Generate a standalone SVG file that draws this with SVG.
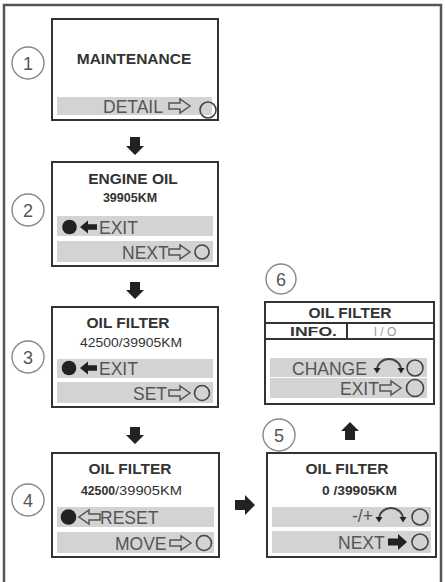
<svg xmlns="http://www.w3.org/2000/svg" width="445" height="582" viewBox="0 0 445 582">
<style>
.frame{fill:none;stroke:#555;stroke-width:2.5}
.box{fill:#fff;stroke:#333;stroke-width:2}
.bar{fill:#d3d3d3}
.step{fill:#fff;stroke:#888;stroke-width:1.4}
.stepn{font-family:"Liberation Sans",Arial,sans-serif;font-size:18px;fill:#555;text-anchor:middle}
.title{font-family:"Liberation Sans",Arial,sans-serif;font-weight:bold;font-size:15.5px;fill:#333;text-anchor:middle}
.sub{font-family:"Liberation Sans",Arial,sans-serif;font-weight:bold;font-size:12.5px;fill:#333;text-anchor:middle}
.subr{font-family:"Liberation Sans",Arial,sans-serif;font-size:13px;fill:#333}
.lbl{font-family:"Liberation Sans",Arial,sans-serif;font-size:17.5px;fill:#555}
.btn{fill:none;stroke:#444;stroke-width:1.6}
.dot{fill:#222}
.harrow{fill:none;stroke:#555;stroke-width:1.5;stroke-linejoin:miter}
.farrow{fill:#222}
.arc{fill:none;stroke:#444;stroke-width:2}
.conn{fill:#222}
</style>
<defs>
<path id="hollowR" d="M0,-3 H11 V-7 L21,0 L11,7 V3 H0 Z"/>
<path id="hollowL" d="M21,-3 H10 V-7 L0,0 L10,7 V3 H21 Z"/>
<path id="fillL" d="M17,-2.8 H8 V-6.5 L0,0 L8,6.5 V2.8 H17 Z"/>
<path id="fillR" d="M0,-3.5 H10 V-8 L19,0 L10,8 V3.5 H0 Z"/>
<g id="curv">
<path d="M2,5 A12,11 0 0 1 26,5" class="arc"/>
<path d="M-1.5,3 L5.5,3 L2,8.5 Z" fill="#222"/>
<path d="M22.5,3 L29.5,3 L26,8.5 Z" fill="#222"/>
</g>
</defs>

<!-- outer frame -->
<path class="frame" d="M4,582 V5 H441 V582"/>

<!-- Node 1 -->
<g id="node1">
<circle class="step" cx="28" cy="63" r="16"/>
<text class="stepn" x="28" y="69.5">1</text>
<rect class="box" x="52" y="19" width="166" height="101"/>
<text class="title" x="134" y="63.5">MAINTENANCE</text>
<rect class="bar" x="57" y="97" width="155" height="18"/>
<text class="lbl" x="103" y="112.5">DETAIL</text>
<use href="#hollowR" class="harrow" x="169" y="106"/>
<circle class="btn" cx="208" cy="110" r="8" fill="none"/>
</g>

<!-- Node 2 -->
<g id="node2">
<circle class="step" cx="28" cy="210" r="16"/>
<text class="stepn" x="28" y="216.5">2</text>
<rect class="box" x="52" y="162" width="166" height="104"/>
<text class="title" x="133" y="184">ENGINE OIL</text>
<text class="sub" x="130" y="202">39905KM</text>
<rect class="bar" x="57" y="216" width="156" height="20"/>
<rect class="bar" x="57" y="241" width="156" height="21"/>
<circle class="dot" cx="69.5" cy="227" r="7.3"/>
<use href="#fillL" class="farrow" x="80" y="227"/>
<text class="lbl" x="99" y="233.5" font-size="18.5">EXIT</text>
<text class="lbl" x="122" y="258.5">NEXT</text>
<use href="#hollowR" class="harrow" x="169" y="252"/>
<circle class="btn" cx="202" cy="252" r="7"/>
</g>

<!-- Node 3 -->
<g id="node3">
<circle class="step" cx="28" cy="357" r="16"/>
<text class="stepn" x="28" y="363.5">3</text>
<rect class="box" x="52" y="307" width="166" height="100"/>
<text class="title" x="128" y="328">OIL FILTER</text>
<text class="subr" x="80" y="347" textLength="102" lengthAdjust="spacingAndGlyphs">42500/39905KM</text>
<rect class="bar" x="57" y="359" width="156" height="19"/>
<rect class="bar" x="57" y="382" width="156" height="21"/>
<circle class="dot" cx="69" cy="368" r="7.3"/>
<use href="#fillL" class="farrow" x="80" y="368"/>
<text class="lbl" x="99" y="374.5" font-size="18.5">EXIT</text>
<text class="lbl" x="133" y="399.5">SET</text>
<use href="#hollowR" class="harrow" x="169" y="393"/>
<circle class="btn" cx="202" cy="393" r="7.5"/>
</g>

<!-- Node 4 -->
<g id="node4">
<circle class="step" cx="28" cy="500" r="16"/>
<text class="stepn" x="28" y="506.5">4</text>
<rect class="box" x="52" y="453" width="167" height="104"/>
<text class="title" x="130" y="474">OIL FILTER</text>
<text class="subr" x="81" y="495" font-weight="bold" textLength="34" lengthAdjust="spacingAndGlyphs">42500</text>
<text class="subr" x="115" y="495" textLength="67" lengthAdjust="spacingAndGlyphs">/39905KM</text>
<rect class="bar" x="57" y="507" width="157" height="20"/>
<rect class="bar" x="57" y="532" width="157" height="21"/>
<circle class="dot" cx="68.5" cy="517" r="7.8"/>
<use href="#hollowL" class="harrow" x="79" y="517"/>
<text class="lbl" x="100" y="524" font-size="19">RESET</text>
<text class="lbl" x="115" y="549.5" font-size="18">MOVE</text>
<use href="#hollowR" class="harrow" x="170" y="543"/>
<circle class="btn" cx="204" cy="543" r="7.5"/>
</g>

<!-- Node 5 -->
<g id="node5">
<circle class="step" cx="279" cy="435" r="16"/>
<text class="stepn" x="279" y="441.5">5</text>
<rect class="box" x="267" y="453" width="169" height="104"/>
<text class="title" x="347" y="474">OIL FILTER</text>
<text class="sub" x="359.5" y="495" textLength="75" lengthAdjust="spacingAndGlyphs">0 /39905KM</text>
<rect class="bar" x="272" y="507" width="159" height="20"/>
<rect class="bar" x="272" y="531" width="159" height="22"/>
<text class="lbl" x="352" y="522" font-size="14">-/+</text>
<use href="#curv" x="377" y="514"/>
<circle class="btn" cx="420" cy="517" r="8"/>
<text class="lbl" x="338" y="548.5" font-size="18.5">NEXT</text>
<use href="#fillR" class="farrow" x="388" y="542"/>
<circle class="btn" cx="420" cy="542" r="8"/>
</g>

<!-- Node 6 -->
<g id="node6">
<circle class="step" cx="281" cy="279" r="15"/>
<text class="stepn" x="281" y="285.5">6</text>
<rect class="box" x="265" y="302" width="169" height="102"/>
<line x1="265" y1="323" x2="434" y2="323" stroke="#333" stroke-width="2"/>
<line x1="265" y1="339" x2="434" y2="339" stroke="#333" stroke-width="2"/>
<line x1="347" y1="323" x2="347" y2="339" stroke="#333" stroke-width="2"/>
<text class="title" x="350" y="318">OIL FILTER</text>
<text class="sub" x="313.5" y="335.5" font-size="12" textLength="47" lengthAdjust="spacingAndGlyphs">INFO.</text>
<text x="385" y="336" font-family="Liberation Sans, Arial, sans-serif" font-size="12" fill="#999" text-anchor="middle">I / O</text>
<rect class="bar" x="270" y="358" width="157" height="19"/>
<rect class="bar" x="270" y="378" width="157" height="20"/>
<text class="lbl" x="292" y="375" font-size="19">CHANGE</text>
<use href="#curv" x="375" y="365"/>
<circle class="btn" cx="415" cy="368" r="8"/>
<text class="lbl" x="340" y="394.5" font-size="17">EXIT</text>
<use href="#hollowR" class="harrow" x="380" y="388"/>
<circle class="btn" cx="415" cy="388" r="8.5"/>
</g>

<!-- connectors -->
<g id="connectors">
<path class="conn" d="M130,137 H140 V146 H144 L135,155 L126,146 H130 Z"/>
<path class="conn" d="M130,282 H140 V290 H144 L135,299 L126,290 H130 Z"/>
<path class="conn" d="M130,427 H140 V435 H144 L135,444 L126,435 H130 Z"/>
<path class="conn" d="M235,500 H245 V495 L255,505 L245,515 V510 H235 Z"/>
<path class="conn" d="M345,440 V431 H341 L350,422 L359,431 H355 V440 Z"/>
</g>
</svg>
